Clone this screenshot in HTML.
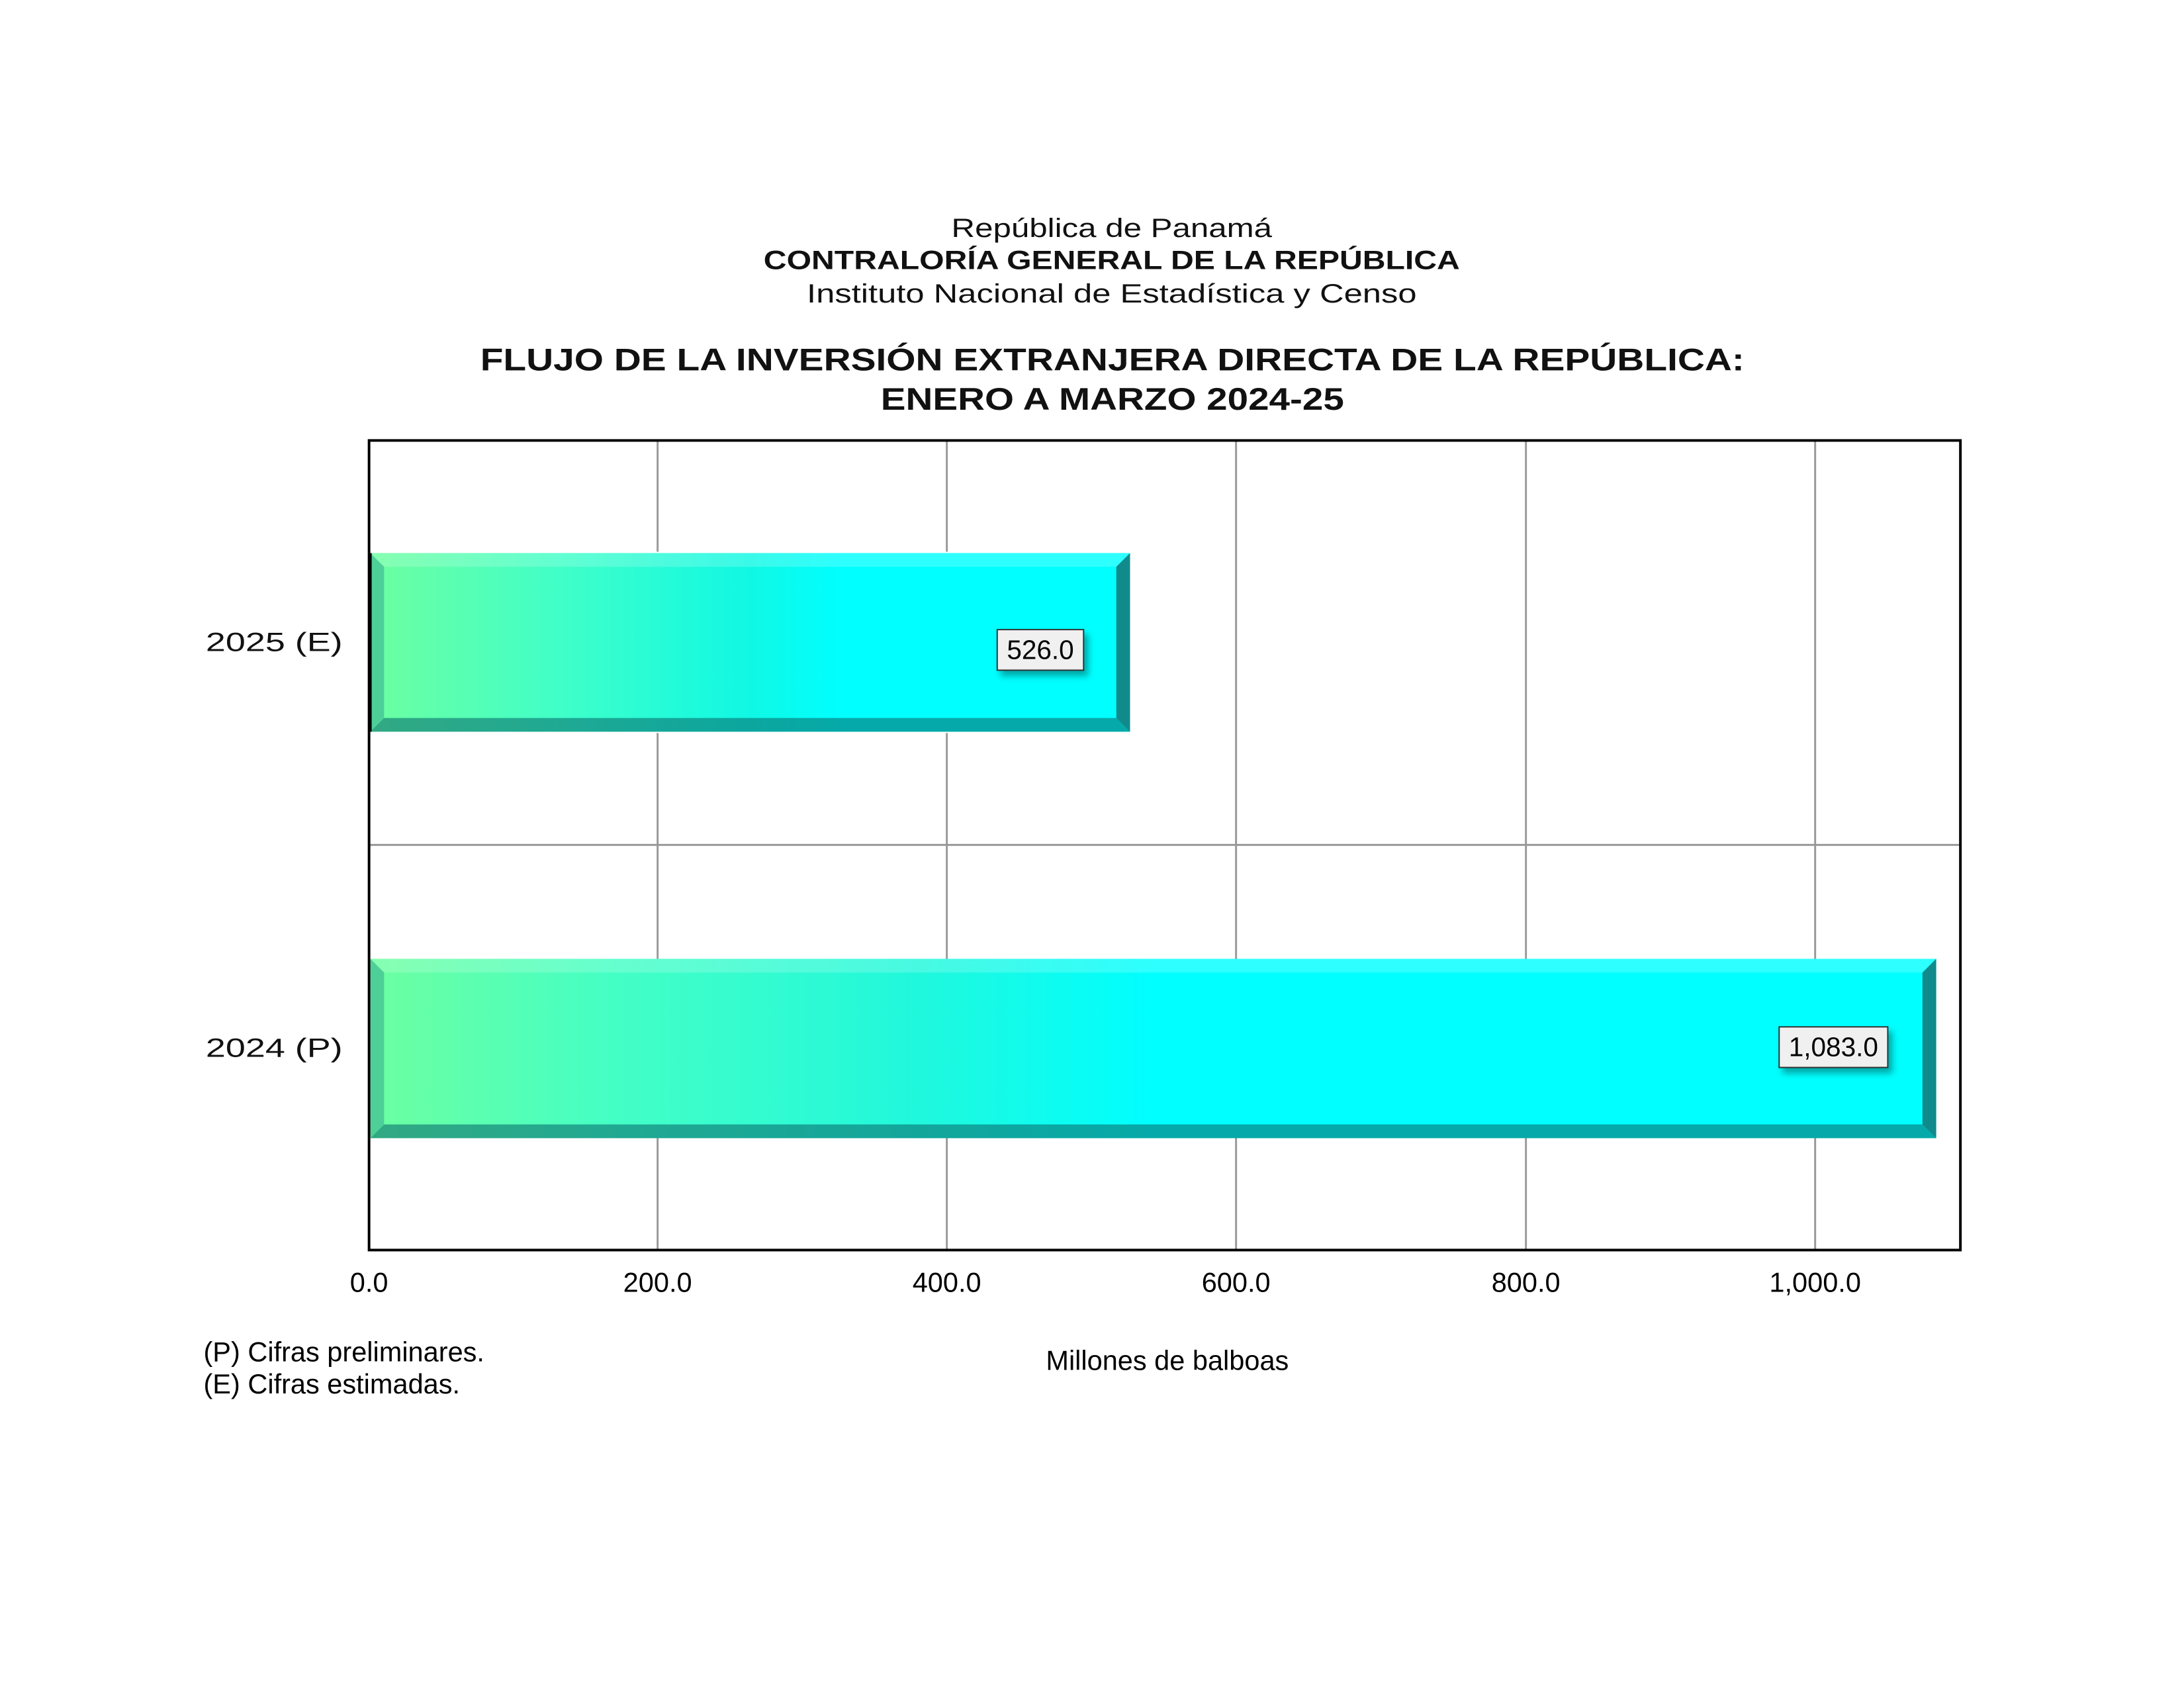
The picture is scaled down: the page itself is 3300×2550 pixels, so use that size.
<!DOCTYPE html>
<html><head><meta charset="utf-8"><style>html,body{margin:0;padding:0;background:#fff}svg{display:block}</style></head>
<body>
<svg width="3300" height="2550" viewBox="0 0 3300 2550" xmlns="http://www.w3.org/2000/svg" font-family="Liberation Sans, Arial, sans-serif">
<defs>
<linearGradient id="g" x1="0" y1="0" x2="1" y2="0" gradientUnits="objectBoundingBox">
<stop offset="0" stop-color="#6dffa0"/><stop offset="0.25" stop-color="#40ffc8"/><stop offset="0.5" stop-color="#10f8e4"/><stop offset="0.62" stop-color="#00ffff"/><stop offset="1" stop-color="#00ffff"/>
</linearGradient>
<linearGradient id="g2" x1="0" y1="0" x2="1" y2="0">
<stop offset="0" stop-color="#6dffa0"/><stop offset="0.15" stop-color="#45ffc4"/><stop offset="0.35" stop-color="#20f8dc"/><stop offset="0.5" stop-color="#00ffff"/><stop offset="1" stop-color="#00ffff"/>
</linearGradient>
<filter id="sh" x="-20%" y="-20%" width="150%" height="160%"><feDropShadow dx="6" dy="8" stdDeviation="5" flood-color="#000" flood-opacity="0.35"/></filter>
</defs>
<rect width="3300" height="2550" fill="#fff"/>
<g transform="scale(0.9887)">
<g text-anchor="middle" fill="#111">
<text x="1699" y="362" font-size="40" textLength="490" lengthAdjust="spacingAndGlyphs">República de Panamá</text>
<text x="1699" y="411" font-size="40" font-weight="bold" textLength="1064" lengthAdjust="spacingAndGlyphs">CONTRALORÍA GENERAL DE LA REPÚBLICA</text>
<text x="1699" y="462" font-size="40" textLength="932" lengthAdjust="spacingAndGlyphs">Instituto Nacional de Estadística y Censo</text>
<text x="1700" y="566" font-size="48" font-weight="bold" textLength="1932" lengthAdjust="spacingAndGlyphs">FLUJO DE LA INVERSIÓN EXTRANJERA DIRECTA DE LA REPÚBLICA:</text>
<text x="1700" y="626" font-size="48" font-weight="bold" textLength="708" lengthAdjust="spacingAndGlyphs">ENERO A MARZO 2024-25</text>
</g>
<g stroke="#999" stroke-width="3">
<line x1="1005" y1="673" x2="1005" y2="1910"/><line x1="1447" y1="673" x2="1447" y2="1910"/><line x1="1889" y1="673" x2="1889" y2="1910"/><line x1="2332" y1="673" x2="2332" y2="1910"/><line x1="2774" y1="673" x2="2774" y2="1910"/>
<line x1="564" y1="1291" x2="2996" y2="1291"/>
</g>
<g>
<rect x="564" y="843" width="1165" height="277" fill="#fff"/>
<rect x="566" y="845" width="1161" height="273" fill="url(#g)"/>
<polygon points="566,845 1727,845 1706,866 587,866" fill="#ffffff" opacity="0.18"/>
<polygon points="566,1118 1727,1118 1706,1097 587,1097" fill="#0a7070" opacity="0.6"/>
<polygon points="1727,845 1727,1118 1706,1097 1706,866" fill="#108a8a"/>
<polygon points="566,845 566,1118 587,1097 587,866" fill="#30a090" opacity="0.5"/>
<line x1="566" y1="845" x2="566" y2="1118" stroke="#000" stroke-width="4"/>
</g>
<g>
<rect x="566" y="1465" width="2393" height="274" fill="url(#g2)"/>
<polygon points="566,1465 2959,1465 2938,1486 587,1486" fill="#ffffff" opacity="0.18"/>
<polygon points="566,1739 2959,1739 2938,1718 587,1718" fill="#0a7070" opacity="0.6"/>
<polygon points="2959,1465 2959,1739 2938,1718 2938,1486" fill="#108a8a"/>
<polygon points="566,1465 566,1739 587,1718 587,1486" fill="#30a090" opacity="0.5"/>
</g>
<rect x="564" y="673" width="2432" height="1237" fill="none" stroke="#000" stroke-width="4"/>
<rect x="1524" y="962" width="132" height="62" fill="#f0f0f0" stroke="#333" stroke-width="2" filter="url(#sh)"/>
<text x="1590" y="1007" font-size="41" text-anchor="middle" fill="#000">526.0</text>
<rect x="2719" y="1569" width="166" height="62" fill="#f0f0f0" stroke="#333" stroke-width="2" filter="url(#sh)"/>
<text x="2802" y="1614" font-size="41" text-anchor="middle" fill="#000">1,083.0</text>
<g font-size="40" fill="#111" text-anchor="middle">
<text x="419" y="995" textLength="209" lengthAdjust="spacingAndGlyphs">2025 (E)</text>
<text x="419" y="1615" textLength="209" lengthAdjust="spacingAndGlyphs">2024 (P)</text>
</g>
<g font-size="42" fill="#000" text-anchor="middle">
<text x="564" y="1974">0.0</text><text x="1005" y="1974">200.0</text><text x="1447" y="1974">400.0</text><text x="1889" y="1974">600.0</text><text x="2332" y="1974">800.0</text><text x="2774" y="1974">1,000.0</text>
</g>
<g font-size="42" fill="#000">
<text x="311" y="2080">(P) Cifras preliminares.</text>
<text x="311" y="2129">(E) Cifras estimadas.</text>
<text x="1784" y="2093" text-anchor="middle">Millones de balboas</text>
</g>
</g>
</svg>
</body></html>
